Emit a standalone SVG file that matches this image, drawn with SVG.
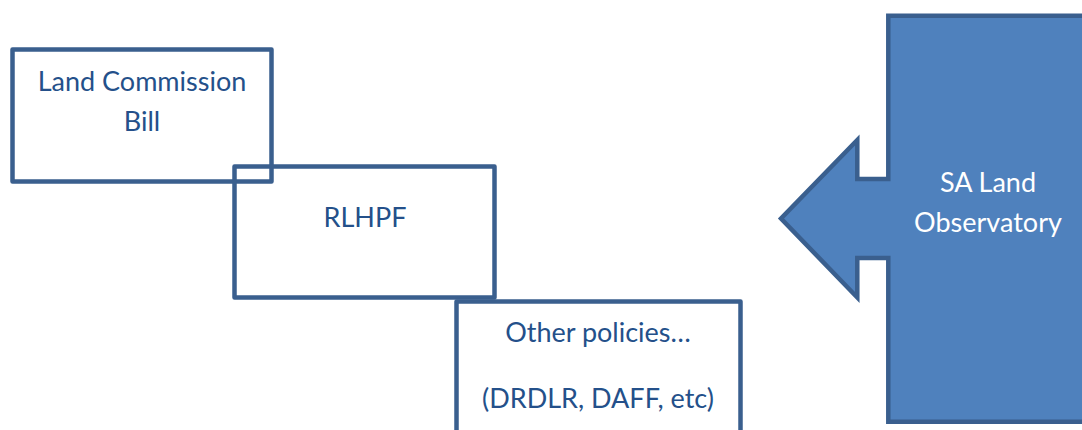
<svg xmlns="http://www.w3.org/2000/svg" width="1082" height="430" viewBox="0 0 1082 430">
<style>
.box{fill:none;stroke:#3A5F8E;stroke-width:4.5;stroke-linejoin:round}
.t{font-family:Lato,"Open Sans",sans-serif;font-size:27px;fill:#24508A;text-anchor:middle}
.w{fill:#FFFFFF}
.arrow{fill:#4F81BD;stroke:#3A5F8E;stroke-width:4.5;stroke-linejoin:miter}
</style>
<rect width="1082" height="430" fill="#FFFFFF"/>
<g id="landcommission">
<rect class="box" x="12.5" y="49.5" width="259" height="132"/>
<text class="t" x="142" y="90.5">Land Commission</text>
<text class="t" x="142" y="130.5">Bill</text>
</g>
<g id="rlhpf">
<rect class="box" x="234.5" y="166.5" width="260" height="131"/>
<text class="t" x="365" y="226.5">RLHPF</text>
</g>
<g id="otherpolicies">
<path class="box" d="M456.5,440 V301.5 H740.5 V440"/>
<text class="t" x="598" y="342">Other policies…</text>
<text class="t" x="598" y="408">(DRDLR, DAFF, etc)</text>
</g>
<g id="observatory">
<path class="arrow" d="M1090,15.7 H888.3 V179 H857.3 V140 L781,218.5 L857.3,297.5 V258 H888.3 V421.7 H1090 Z"/>
<text class="t w" x="988" y="191.5">SA Land</text>
<text class="t w" x="988" y="231.5">Observatory</text>
</g>
<g id="connectors"></g>
</svg>
